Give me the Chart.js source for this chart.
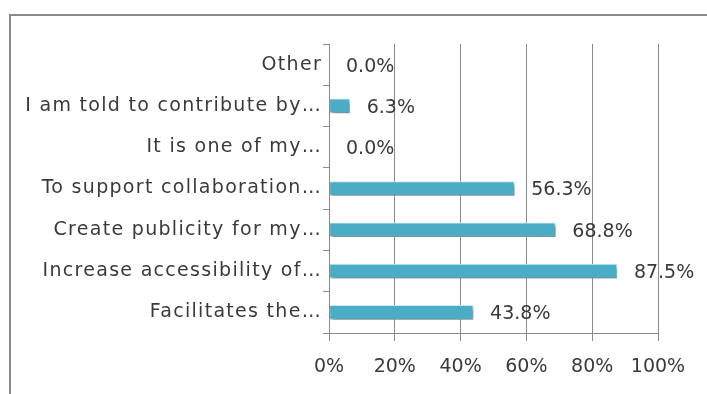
<!DOCTYPE html>
<html>
<head>
<meta charset="utf-8">
<script src="https://cdn.jsdelivr.net/npm/chart.js@4/dist/chart.umd.min.js"></script>
<style>
  html, body { margin:0; padding:0; background:#fff; }
  #wrap { position:relative; width:707px; height:394px; overflow:hidden; }
  #frame { position:absolute; left:9px; top:14px; width:720px; height:400px;
           border-left:2px solid #8a8a8a; border-top:2px solid #8a8a8a; }
  #chart { position:absolute; left:0; top:0; }
</style>
</head>
<body>
<div id="wrap">
  <div id="frame"></div>
  <canvas id="chart" width="707" height="394"></canvas>
</div>
<script>
// ---------------- Datos ----------------
const categorias = [
  'Other',
  'I am told to contribute by\u2026',
  'It is one of my\u2026',
  'To support collaboration\u2026',
  'Create publicity for my\u2026',
  'Increase accessibility of\u2026',
  'Facilitates the\u2026'
];
const porcentajes = [0.0, 6.3, 0.0, 56.3, 68.8, 87.5, 43.8];
const ticksX = [0, 20, 40, 60, 80, 100];

const FUENTE = "'DejaVu Sans'";
const TEXTO = '#3a3a3a';
const GRIS = '#8a8a8a';

// sombra de las barras + etiquetas de valor
const barrasPlugin = {
  id: 'barras',
  beforeDatasetsDraw(chart) {
    const ctx = chart.ctx;
    ctx.save();
    ctx.shadowColor = 'rgba(0,0,0,0.4)';
    ctx.shadowOffsetX = 2;
    ctx.shadowOffsetY = 3;
    ctx.shadowBlur = 3;
  },
  afterDatasetsDraw(chart) {
    const ctx = chart.ctx;
    ctx.restore();
    const meta = chart.getDatasetMeta(0);
    ctx.save();
    ctx.font = '19px ' + FUENTE;
    ctx.fillStyle = TEXTO;
    ctx.textAlign = 'left';
    ctx.textBaseline = 'middle';
    meta.data.forEach((bar, i) => {
      ctx.fillText(porcentajes[i].toFixed(1) + '%', bar.x + 17, bar.y + 2);
    });
    ctx.restore();
    // las etiquetas del eje Y (ticks.z = 1) van algo más espaciadas
    ctx.letterSpacing = '1.3px';
  },
  afterDraw(chart) {
    chart.ctx.letterSpacing = '0px';
  }
};

new Chart(document.getElementById('chart').getContext('2d'), {
  type: 'bar',
  data: {
    labels: categorias,
    datasets: [{
      data: porcentajes,
      backgroundColor: '#4bacc6',
      borderColor: '#c4ebf4',
      borderWidth: 1,
      borderSkipped: false,
      barThickness: 14
    }]
  },
  options: {
    indexAxis: 'y',
    responsive: false,
    animation: false,
    layout: { padding: { left: 0, right: 49, top: 44, bottom: 0 } },
    plugins: { legend: { display: false }, tooltip: { enabled: false } },
    scales: {
      x: {
        min: 0, max: 100,
        afterBuildTicks: s => { s.ticks = ticksX.map(v => ({ value: v })); },
        afterFit: s => { s.height = 61; },
        border: { color: GRIS, width: 1 },
        grid: { color: GRIS, lineWidth: 1, tickLength: 8, tickColor: GRIS },
        ticks: {
          padding: 15,
          color: TEXTO,
          font: { family: FUENTE, size: 19 },
          callback: v => v + '%'
        }
      },
      y: {
        afterFit: s => { s.width = 329; },
        border: { color: GRIS, width: 1, z: 1 },
        grid: { offset: true, drawOnChartArea: false, tickLength: 6, color: GRIS },
        ticks: {
          z: 1,
          padding: 1,
          color: TEXTO,
          font: { family: FUENTE, size: 19 },
          autoSkip: false
        }
      }
    }
  },
  plugins: [barrasPlugin]
});
</script>
</body>
</html>
